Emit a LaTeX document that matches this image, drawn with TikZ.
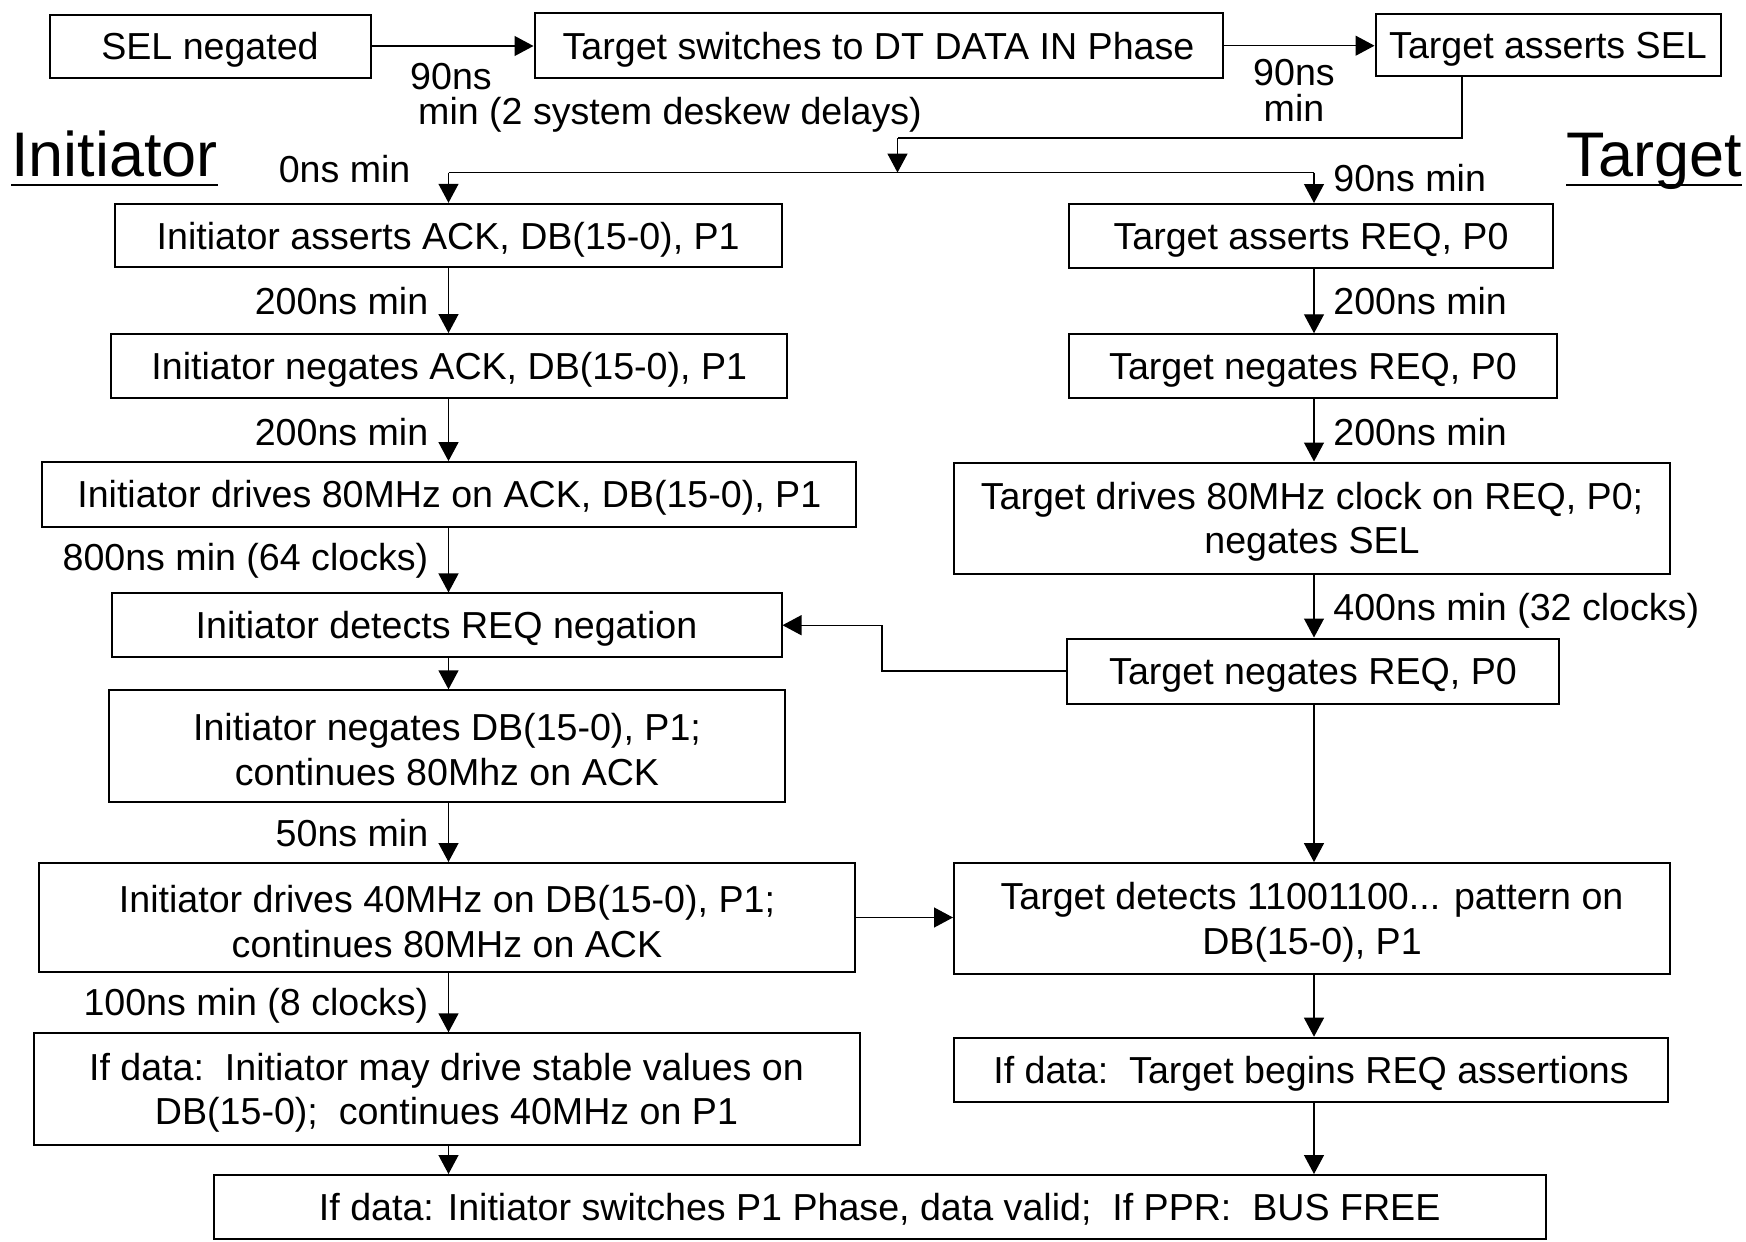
\documentclass[tikz,border=0pt]{standalone}
\usepackage{fontspec}
\setmainfont{Liberation Sans}
\usetikzlibrary{arrows.meta}
\newcommand{\dnline}[1]{\raisebox{-1.9pt}[\height][\depth]{#1}}
\begin{document}
\begin{tikzpicture}[x=0.5pt,y=-0.5pt,
  box/.style={draw, line width=1pt, inner sep=0pt, align=center, font=\fontsize{18.8}{22.3}\selectfont},
  onebox/.style={box, text height=13.5pt, text depth=0pt},
  lbl/.style={inner sep=0pt, text height=13.5pt, text depth=0pt, font=\fontsize{18.8}{22.3}\selectfont},
  big/.style={inner sep=0pt, font=\fontsize{31.5}{36}\selectfont},
  arr/.style={line width=0.65pt, -{Triangle[length=9.5pt,width=10pt]}},
  ln/.style={line width=0.65pt}]
\fill[white] (0,0) rectangle (1746,1242);
\useasboundingbox (0,0) rectangle (1746,1242);

% top row
\node[onebox, minimum width=160.5pt, minimum height=31.5pt] (sel) at (210,46) {SEL negated};
\node[onebox, minimum width=344pt, minimum height=32.25pt] (tsw) at (878.5,45.7) {Target switches to DT DATA IN Phase};
\node[onebox, minimum width=172.5pt, minimum height=31pt] (tas) at (1548,44.5) {Target asserts SEL};

\draw[arr] (sel.east) -- (tsw.west |- sel.east);
\draw[arr] (tsw.east) -- (tas.west |- tsw.east);
\node[lbl] (l90a) at (451,75.7) {90ns};
\node[lbl] (lmina) at (670,111.4) {min (2 system deskew delays)};
\node[lbl] (l90b) at (1294,72.4) {90ns};
\node[lbl] (lminb) at (1294,108) {min};

% big labels
\node[big, anchor=base west] (init) at (11,176) {Initiator};
\node[big, anchor=base east] (targ) at (1742,176) {Target};
\draw[line width=1.4pt] ([yshift=-4.5pt]init.base west) -- ([yshift=-4.5pt]init.base east);
\draw[line width=1.4pt] ([yshift=-4.5pt]targ.base west) -- ([yshift=-4.5pt]targ.base east);

% left column
\node[onebox, minimum width=333.5pt, minimum height=31.7pt] (L1) at (448.2,235.5) {Initiator asserts ACK, DB(15-0), P1};
\node[onebox, minimum width=338pt, minimum height=31.75pt] (L2) at (449.3,365.8) {Initiator negates ACK, DB(15-0), P1};
\node[onebox, minimum width=407pt, minimum height=32.3pt] (L3) at (449.3,494.4) {Initiator drives 80MHz on ACK, DB(15-0), P1};
\node[onebox, minimum width=335pt, minimum height=31.75pt] (L4) at (446.5,625.2) {Initiator detects REQ negation};
\node[box, minimum width=338pt, minimum height=55.65pt] (L5) at (447,746) {\dnline{Initiator negates DB(15-0), P1;}\\\dnline{continues 80Mhz on ACK}};
\node[box, minimum width=408pt, minimum height=54.5pt] (L6) at (447,917.5) {\dnline{Initiator drives 40MHz on DB(15-0), P1;}\\\dnline{continues 80MHz on ACK}};
\node[box, minimum width=413pt, minimum height=55.65pt] (L7) at (446.5,1089) {\dnline{If data:\ \ Initiator may drive stable values on}\\\dnline{DB(15-0);\ \ continues 40MHz on P1}};

% right column
\node[onebox, minimum width=242pt, minimum height=32pt] (R1) at (1311,236) {Target asserts REQ, P0};
\node[onebox, minimum width=244pt, minimum height=31.75pt] (R2) at (1313,366) {Target negates REQ, P0};
\node[box, minimum width=358pt, minimum height=55.5pt] (R3) at (1312,518) {\dnline{Target drives 80MHz clock on REQ, P0;}\\\dnline{negates SEL}};
\node[onebox, minimum width=246pt, minimum height=32.5pt] (R4) at (1313,671) {Target negates REQ, P0};
\node[box, minimum width=358pt, minimum height=55.5pt] (R5) at (1312,918.6) {\dnline{Target detects 11001100... pattern on}\\\dnline{DB(15-0), P1}};
\node[onebox, minimum width=357pt, minimum height=32.3pt] (R6) at (1311,1070) {If data:\ \ Target begins REQ assertions};

% bottom
\node[onebox, minimum width=666pt, minimum height=32pt] (B) at (879.7,1207) {If data: Initiator switches P1 Phase, data valid;\ \ If PPR:\ \ BUS FREE};

% column coordinates
\coordinate (cl) at (448.5,0);
\coordinate (cr) at (1314,0);

% junction from Target asserts SEL
\coordinate (j1) at (1462,138);
\coordinate (j2) at (897.5,138);
\coordinate (jm) at (897.5,172.6);
\coordinate (jl) at (448.5,172.6);
\coordinate (jr) at (1314,172.6);
\draw[ln] (tas.south -| j1) -- (j1) -- (j2);
\draw[arr] (j2) -- (jm);
\draw[ln] (jl) -- (jr);
\draw[arr] (jl) -- (L1.north -| jl);
\draw[arr] (jr) -- (R1.north -| jr);
\node[lbl] (l0ns) at (344.6,169) {0ns min};
\node[lbl, anchor=west] (l90c) at (1333,178) {90ns min};

% left arrows
\draw[arr] (L1.south -| cl) -- (L2.north -| cl);
\draw[arr] (L2.south -| cl) -- (L3.north -| cl);
\draw[arr] (L3.south -| cl) -- (L4.north -| cl);
\draw[arr] (L4.south -| cl) -- (L5.north -| cl);
\draw[arr] (L5.south -| cl) -- (L6.north -| cl);
\draw[arr] (L6.south -| cl) -- (L7.north -| cl);
\draw[arr] (L7.south -| cl) -- (B.north -| cl);
\node[lbl, anchor=east] (ll1) at (428.7,300.6) {200ns min};
\node[lbl, anchor=east] (ll2) at (428.7,432) {200ns min};
\node[lbl, anchor=east] (ll3) at (428.7,556.8) {800ns min (64 clocks)};
\node[lbl, anchor=east] (ll5) at (428.7,833) {50ns min};
\node[lbl, anchor=east] (ll6) at (428.7,1002) {100ns min (8 clocks)};

% right arrows
\draw[arr] (R1.south -| cr) -- (R2.north -| cr);
\draw[arr] (R2.south -| cr) -- (R3.north -| cr);
\draw[arr] (R3.south -| cr) -- (R4.north -| cr);
\draw[arr] (R4.south -| cr) -- (R5.north -| cr);
\draw[arr] (R5.south -| cr) -- (R6.north -| cr);
\draw[arr] (R6.south -| cr) -- (B.north -| cr);
\node[lbl, anchor=west] (rl1) at (1333,300.6) {200ns min};
\node[lbl, anchor=west] (rl2) at (1333,432) {200ns min};
\node[lbl, anchor=west] (rl3) at (1333,607) {400ns min (32 clocks)};

% cross connectors
\coordinate (c1) at (882,671);
\draw[arr] (R4.west) -- (c1) |- (L4.east);
\draw[arr] (L6.east) -- (R5.west |- L6.east);
\end{tikzpicture}
\end{document}
